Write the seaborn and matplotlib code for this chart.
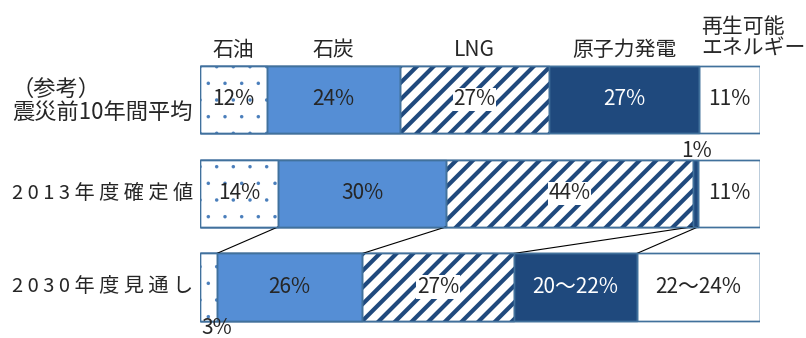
import matplotlib
matplotlib.use("Agg")
import matplotlib.pyplot as plt
import numpy as np
import pandas as pd
import seaborn as sns

# data
sources = ["石油", "石炭", "LNG", "原子力発電", "再生可能\nエネルギー"]
rows = ["震災前10年間平均", "2013年度確定値", "2030年度見通し"]
row_text = ["（参考）\n震災前10年間平均", "2 0 1 3 年 度 確 定 値", "2 0 3 0 年 度 見 通 し"]
shares = [
    [12, 24, 27, 27, 11],
    [14, 30, 44, 1, 11],
    [3, 26, 27, 22, 22],
]
labels = [
    ["12%", "24%", "27%", "27%", "11%"],
    ["14%", "30%", "44%", "", "11%"],
    ["", "26%", "27%", "20～22%", "22～24%"],
]

sns.set_style("white")
plt.rcParams["font.family"] = ["Noto Sans CJK JP", "DejaVu Sans"]

edge = "#41719C"
navy = "#1F497D"
styles = [
    dict(color="white", hatch=".", edgecolor="#4A7EBB", lw=0.1),
    dict(color="#558ED5", hatch=None, edgecolor=edge, lw=1.0),
    dict(color="white", hatch="//", edgecolor=navy, lw=3.0),
    dict(color=navy, hatch=None, edgecolor=edge, lw=1.0),
    dict(color="white", hatch=None, edgecolor=edge, lw=1.0),
]

# normalise each row to 100 and get cumulative sums
sh = np.array(shares, dtype=float)
sh = sh / sh.sum(axis=1, keepdims=True) * 100
cum = np.cumsum(sh, axis=1)
start = cum - sh

fig = plt.figure(figsize=(8.06, 3.38), dpi=100)
ax = fig.add_axes([200 / 806, 0, 560 / 806, 1])
bw = 0.715

# draw cumulative bars back to front so each segment shows
for j in range(len(sources) - 1, -1, -1):
    df = pd.DataFrame({"row": rows, "cum": cum[:, j]})
    st = styles[j]
    with plt.rc_context({"hatch.linewidth": st["lw"], "hatch.color": st["edgecolor"]}):
        sns.barplot(data=df, x="cum", y="row", orient="h", color=st["color"],
                    width=bw, saturation=1, edgecolor=st["edgecolor"],
                    linewidth=1.0, hatch=st["hatch"], ax=ax)

# outline of every segment in the border colour
for i in range(len(rows)):
    for j in range(len(sources)):
        if sh[i, j] > 0:
            ax.add_patch(plt.Rectangle((start[i, j], i - bw / 2), sh[i, j], bw,
                                       fill=False, edgecolor=edge, lw=1.0, zorder=3))

ax.set_xlim(0, 100)
ax.set_ylim(2.544, -1.061)
ax.axis("off")

fs = 15
# percentage labels
for i in range(len(rows)):
    for j in range(len(sources)):
        t = labels[i][j]
        if not t:
            continue
        x = start[i, j] + sh[i, j] / 2
        kw = dict(ha="center", va="center", fontsize=fs, zorder=5)
        if j == 3:
            kw["color"] = "white"
        if j == 2:
            kw["bbox"] = dict(facecolor="white", edgecolor="none", pad=0.5)
        ax.text(x, i, t, **kw)

ax.text(cum[1, 3] - 0.3, 0.55, "1%", ha="center", va="center", fontsize=fs)
ax.text(start[2, 0] + 3.0, 2.44, "3%", ha="center", va="center", fontsize=fs)

# source headers above the first row
for j in range(4):
    ax.text(start[0, j] + sh[0, j] / 2, -0.53, sources[j], ha="center", va="center",
            fontsize=fs)
ax.text(start[0, 4] + 0.4, -0.655, sources[4], ha="left", va="center", fontsize=fs,
        linespacing=1.0)

# row labels on the left
tr = ax.get_yaxis_transform()
ax.text(-0.336, 0.01, row_text[0], transform=tr, ha="left", va="center",
        fontsize=16, linespacing=1.0)
for i in (1, 2):
    ax.text(-0.336, i, row_text[i], transform=tr, ha="left", va="center", fontsize=14.5)

# connector lines between 2013 and 2030
for j in range(4):
    ax.plot([cum[1, j], cum[2, j]], [1 + bw / 2, 2 - bw / 2], color="black", lw=0.8)

fig.savefig("out.png", dpi=100)
